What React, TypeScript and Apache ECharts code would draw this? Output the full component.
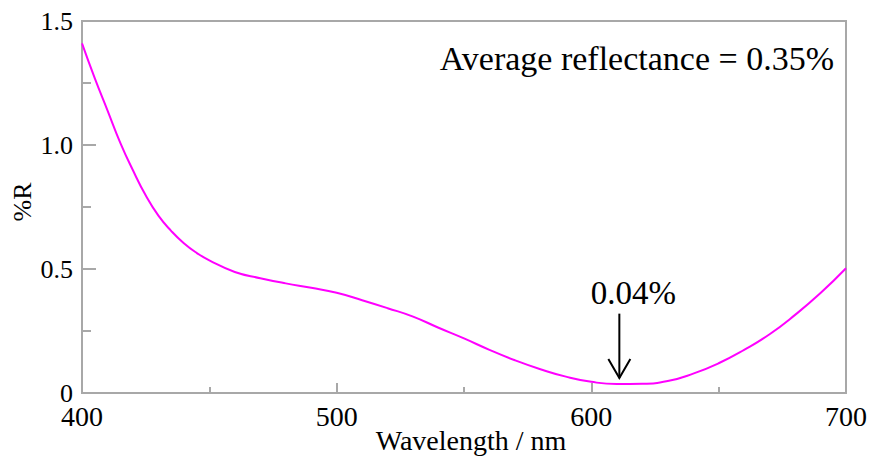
import React, { useEffect, useRef } from "react";
import * as echarts from "echarts";

const wavelengths = [400, 405, 410, 415, 420, 425, 430, 435, 440, 445, 450, 460, 470, 480, 490, 500, 510, 520, 530, 540, 550, 560, 570, 580, 590, 600, 610, 620, 630, 640, 650, 660, 670, 680, 690, 700];
const reflectance = [1.41, 1.27, 1.14, 1.01, 0.898, 0.797, 0.715, 0.654, 0.604, 0.565, 0.535, 0.488, 0.463, 0.442, 0.424, 0.404, 0.374, 0.342, 0.308, 0.263, 0.22, 0.174, 0.132, 0.096, 0.066, 0.045, 0.036, 0.037, 0.048, 0.078, 0.12, 0.174, 0.237, 0.315, 0.403, 0.503];
const yTicks = [0, 0.5, 1.0, 1.5];
const xTicks = [400, 500, 600, 700];
const titleText = "Average reflectance = 0.35%";
const minText = "0.04%";
const minWavelength = 611;
const arrowTip = 0.06;
const arrowTop = 0.32;

const FONT = "Liberation Serif";
const GRAY = "#a8a8a8";

export default function App() {
  const ref = useRef<HTMLDivElement>(null);
  useEffect(() => {
    if (!ref.current) return;
    const chart = echarts.init(ref.current, null, { renderer: "svg" });
    const data = wavelengths.map((w, i) => [w, reflectance[i]]);
    chart.setOption({
      animation: false,
      backgroundColor: "#ffffff",
      textStyle: { fontFamily: FONT },
      grid: {
        left: 82,
        top: 21,
        right: 22,
        bottom: 64,
        show: true,
        borderColor: GRAY,
        borderWidth: 2,
        backgroundColor: "transparent",
      },
      xAxis: {
        type: "value",
        min: xTicks[0],
        max: xTicks[xTicks.length - 1],
        interval: 100,
        axisLine: { show: true, lineStyle: { color: GRAY, width: 2 } },
        axisTick: { show: true, inside: true, length: 10, lineStyle: { color: GRAY, width: 2 } },
        minorTick: { show: true, splitNumber: 2, length: 6, lineStyle: { color: GRAY, width: 2 } },
        splitLine: { show: false },
        axisLabel: {
          fontFamily: FONT,
          fontSize: 28,
          color: "#000",
          margin: 9,
          formatter: (v: number) => String(v),
        },
      },
      yAxis: {
        type: "value",
        min: yTicks[0],
        max: yTicks[yTicks.length - 1],
        interval: 0.5,
        axisLine: { show: true, lineStyle: { color: GRAY, width: 2 } },
        axisTick: { show: true, inside: true, length: 14, lineStyle: { color: GRAY, width: 2 } },
        minorTick: { show: true, splitNumber: 2, length: 9, lineStyle: { color: GRAY, width: 2 } },
        splitLine: { show: false },
        axisLabel: {
          fontFamily: FONT,
          fontSize: 26,
          color: "#000",
          margin: 9,
          formatter: (v: number) => (v === 0 ? "0" : v.toFixed(1)),
        },
      },
      series: [
        {
          type: "line",
          data,
          smooth: true,
          showSymbol: false,
          lineStyle: { color: "#ff00ff", width: 2 },
        },
      ],
    });

    const tip = chart.convertToPixel({ gridIndex: 0 }, [minWavelength, arrowTip]) as number[];
    const top = chart.convertToPixel({ gridIndex: 0 }, [minWavelength, arrowTop]) as number[];
    const gridRight = chart.convertToPixel({ gridIndex: 0 }, [700, 1.5]) as number[];
    const gridLeft = chart.convertToPixel({ gridIndex: 0 }, [400, 0]) as number[];

    chart.setOption({
      graphic: [
        {
          type: "text",
          x: gridRight[0] - 12,
          y: gridRight[1] + 37,
          style: { text: titleText, fontFamily: FONT, fontSize: 34, fill: "#000", align: "right", verticalAlign: "middle" },
        },
        {
          type: "text",
          x: tip[0] + 14,
          y: top[1] - 21,
          style: { text: minText, fontFamily: FONT, fontSize: 33, fill: "#000", align: "center", verticalAlign: "middle" },
        },
        {
          type: "line",
          shape: { x1: tip[0], y1: top[1], x2: tip[0], y2: tip[1] },
          style: { stroke: "#000", lineWidth: 2 },
        },
        {
          type: "polyline",
          shape: { points: [[tip[0] - 11, tip[1] - 19], [tip[0], tip[1]], [tip[0] + 11, tip[1] - 19]] },
          style: { stroke: "#000", lineWidth: 2, fill: "none" },
        },
        {
          type: "text",
          x: 471,
          y: gridLeft[1] + 47,
          style: { text: "Wavelength / nm", fontFamily: FONT, fontSize: 28, fill: "#000", align: "center", verticalAlign: "middle" },
        },
        {
          type: "text",
          x: 22,
          y: 202,
          rotation: Math.PI / 2,
          style: { text: "%R", fontFamily: FONT, fontSize: 26, fill: "#000", align: "center", verticalAlign: "middle" },
        },
      ],
    });

    return () => chart.dispose();
  }, []);
  return <div ref={ref} style={{ width: 870, height: 457, position: "absolute", left: 0, top: 0 }} />;
}
